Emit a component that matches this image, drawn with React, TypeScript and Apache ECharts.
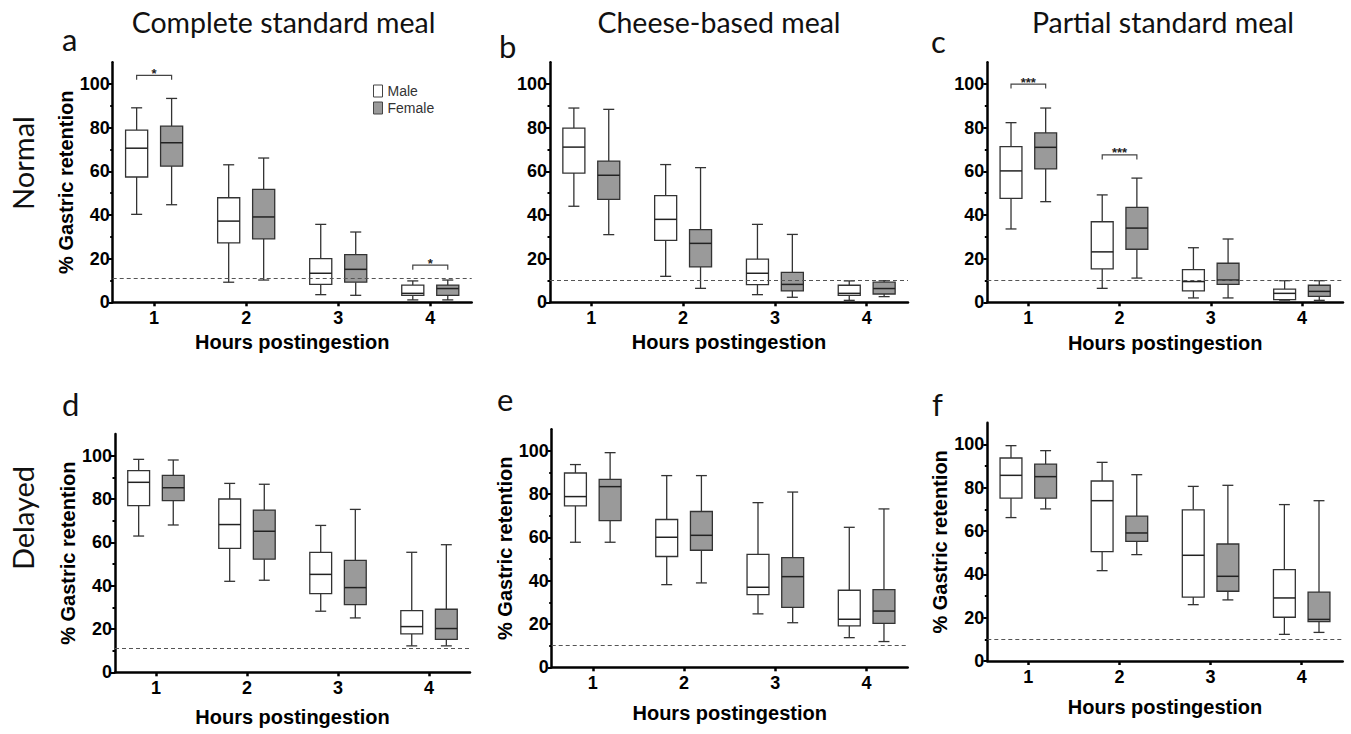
import React, { useEffect, useRef } from "react";
import * as echarts from "echarts";

// ---------- data ----------
const hours = [1, 2, 3, 4];
const yTicks = [0, 20, 40, 60, 80, 100];
const panelTitles = ["Complete standard meal", "Cheese-based meal", "Partial standard meal"];
const panelLetters = ["a", "b", "c", "d", "e", "f"];
const rowLabels = ["Normal", "Delayed"];
const sexes = ["Male", "Female"];
const yAxisName = "% Gastric retention";
const xAxisName = "Hours postingestion";

// each entry: [min, Q1, median, Q3, max] for hours 1..4
const completeNormalMale = [[40.3, 57.4, 70.6, 78.9, 89.1], [9.2, 27.2, 37.2, 47.9, 63.0], [3.5, 8.2, 13.3, 20.0, 35.7], [1.1, 3.2, 4.1, 7.9, 9.8]];
const completeNormalFemale = [[44.7, 62.4, 73.1, 80.7, 93.4], [10.2, 29.1, 39.1, 51.7, 66.1], [3.2, 9.2, 15.1, 21.8, 32.2], [1.1, 3.2, 6.3, 7.9, 10.2]];
const cheeseNormalMale = [[44.0, 59.2, 71.1, 79.8, 89.0], [11.9, 28.4, 38.0, 48.9, 63.1], [3.5, 8.1, 13.3, 19.8, 35.7], [0.9, 3.2, 4.1, 7.8, 9.8]];
const cheeseNormalFemale = [[31.0, 47.2, 58.2, 64.7, 88.4], [6.4, 16.2, 27.0, 33.3, 61.7], [2.3, 5.2, 8.2, 13.7, 31.1], [2.6, 3.8, 6.3, 9.2, 9.9]];
const partialNormalMale = [[33.6, 47.6, 60.2, 71.3, 82.3], [6.4, 15.3, 23.1, 36.9, 49.2], [2.0, 5.2, 9.5, 15.0, 25.0], [1.0, 1.2, 4.1, 6.0, 9.9]];
const partialNormalFemale = [[46.1, 61.1, 71.0, 77.6, 89.0], [11.1, 24.3, 34.0, 43.5, 56.9], [2.0, 8.2, 10.2, 17.9, 29.0], [0.9, 2.7, 5.0, 7.8, 9.9]];
const completeDelayedMale = [[62.9, 76.9, 87.7, 93.1, 98.3], [42.0, 57.2, 68.2, 80.0, 87.2], [28.2, 36.3, 45.2, 55.4, 67.8], [12.2, 17.7, 21.1, 28.5, 55.4]];
const completeDelayedFemale = [[68.0, 79.2, 85.2, 90.9, 98.0], [42.5, 52.2, 65.1, 74.9, 86.8], [25.1, 31.2, 39.1, 51.7, 75.2], [12.2, 15.2, 20.2, 29.1, 58.9]];
const cheeseDelayedMale = [[57.8, 74.6, 78.9, 89.8, 93.7], [38.2, 51.2, 60.1, 68.3, 88.6], [24.7, 33.6, 37.0, 52.2, 76.1], [13.7, 19.1, 22.2, 35.6, 64.7]];
const cheeseDelayedFemale = [[57.8, 67.8, 83.5, 86.9, 99.2], [39.0, 54.1, 61.0, 72.0, 88.6], [20.6, 27.7, 41.9, 50.7, 81.0], [11.9, 20.3, 26.0, 35.9, 73.2]];
const partialDelayedMale = [[66.2, 75.2, 85.7, 93.7, 99.4], [41.7, 50.5, 74.0, 83.1, 91.7], [26.0, 29.5, 48.8, 69.8, 80.6], [12.3, 20.2, 29.1, 42.2, 72.2]];
const partialDelayedFemale = [[70.2, 75.2, 85.1, 90.9, 97.1], [49.1, 55.2, 59.1, 66.9, 86.0], [28.2, 32.2, 39.1, 54.0, 81.1], [13.2, 18.2, 19.2, 31.8, 74.0]];

const thresholds = [11, 10, 10, 11, 10, 10];

// significance brackets: [hour, value of bracket]
const sigCompleteNormal = [[1, 104], [4, 17]];
const sigCompleteNormalLabels = ["*", "*"];
const sigPartialNormal = [[1, 100], [2, 67.5]];
const sigPartialNormalLabels = ["***", "***"];

// ---------- layout / style ----------
const GRIDS = [
  { left: 112.7, top: 62.2, width: 359, height: 240.1 },
  { left: 550, top: 62.2, width: 358, height: 240.1 },
  { left: 987.3, top: 62.2, width: 355.7, height: 240.1 },
  { left: 115, top: 434, width: 355, height: 238.3 },
  { left: 551.7, top: 429.3, width: 356, height: 238 },
  { left: 987.3, top: 422.7, width: 355.4, height: 238.3 },
];
const X_NAME_GAP = [30, 30, 31, 35, 36, 36];
const SHOW_Y_NAME = [true, false, false, true, true, true];
const OFFSET = 0.19;
const BOX_HALF = 0.12;
const CAP_HALF = 0.06;
const STROKE = "#333";
const AXIS_FONT = "Liberation Sans, Arial, Helvetica, sans-serif";
const TITLE_FONT = "Lato, Open Sans, sans-serif";

const boxSets = [
  [completeNormalMale, completeNormalFemale],
  [cheeseNormalMale, cheeseNormalFemale],
  [partialNormalMale, partialNormalFemale],
  [completeDelayedMale, completeDelayedFemale],
  [cheeseDelayedMale, cheeseDelayedFemale],
  [partialDelayedMale, partialDelayedFemale],
];

function boxRenderer(offset: number, fill: string) {
  return (params: any, api: any) => {
    const x = api.value(0) + offset;
    const pMin = api.coord([x, api.value(1)]);
    const yQ1 = api.coord([x, api.value(2)])[1];
    const yMed = api.coord([x, api.value(3)])[1];
    const yQ3 = api.coord([x, api.value(4)])[1];
    const yMax = api.coord([x, api.value(5)])[1];
    const cx = pMin[0];
    const yMin = pMin[1];
    const unit = api.size([1, 0])[0];
    const half = unit * BOX_HALF;
    const cap = unit * CAP_HALF;
    const ls = { stroke: STROKE, lineWidth: 1.3, fill: null };
    return {
      type: "group",
      children: [
        { type: "line", shape: { x1: cx, y1: yMax, x2: cx, y2: yQ3 }, style: ls },
        { type: "line", shape: { x1: cx, y1: yQ1, x2: cx, y2: yMin }, style: ls },
        { type: "line", shape: { x1: cx - cap, y1: yMax, x2: cx + cap, y2: yMax }, style: ls },
        { type: "line", shape: { x1: cx - cap, y1: yMin, x2: cx + cap, y2: yMin }, style: ls },
        { type: "rect", shape: { x: cx - half, y: yQ3, width: half * 2, height: yQ1 - yQ3 }, style: { fill, stroke: STROKE, lineWidth: 1.3 } },
        { type: "line", shape: { x1: cx - half, y1: yMed, x2: cx + half, y2: yMed }, style: { stroke: "#222", lineWidth: 1.5 } },
      ],
    };
  };
}

function sigRenderer(labels: string[]) {
  return (params: any, api: any) => {
    const h = api.value(0);
    const v = api.value(1);
    const pl = api.coord([h - OFFSET, v]);
    const pr = api.coord([h + OFFSET, v]);
    const leg = 4.5;
    return {
      type: "group",
      children: [
        {
          type: "polyline",
          shape: { points: [[pl[0], pl[1] + leg], [pl[0], pl[1]], [pr[0], pr[1]], [pr[0], pr[1] + leg]] },
          style: { stroke: "#444", lineWidth: 1.2, fill: null },
        },
        {
          type: "text",
          x: (pl[0] + pr[0]) / 2,
          y: pl[1] - 2,
          style: {
            text: labels[params.dataIndex],
            fontSize: 13,
            fontWeight: "bold",
            fontFamily: AXIS_FONT,
            fill: "#222",
            align: "center",
            verticalAlign: "middle",
            textAlign: "center",
            textVerticalAlign: "middle",
          },
        },
      ],
    };
  };
}

function buildOption() {
  const grid = GRIDS.map((g) => ({ ...g, containLabel: false }));
  const xAxis = GRIDS.map((_, i) => ({
    gridIndex: i,
    type: "value",
    min: 0.55,
    max: 4.45,
    splitLine: { show: false },
    axisLine: { show: true, onZero: false, lineStyle: { color: "#000", width: 2.5 } },
    axisTick: { show: true, customValues: hours, length: 4, lineStyle: { color: "#000", width: 2.5 } },
    axisLabel: { customValues: hours, margin: 7, color: "#000", fontSize: 18, fontWeight: "bold", fontFamily: AXIS_FONT },
    name: xAxisName,
    nameLocation: "middle",
    nameGap: X_NAME_GAP[i],
    nameTextStyle: { color: "#000", fontSize: 20, fontWeight: "bold", fontFamily: AXIS_FONT },
  }));
  const yAxis = GRIDS.map((_, i) => ({
    gridIndex: i,
    type: "value",
    min: 0,
    max: 110,
    interval: 20,
    splitLine: { show: false },
    minorSplitLine: { show: false },
    axisLine: { show: true, onZero: false, lineStyle: { color: "#000", width: 2.5 } },
    axisTick: { show: true, customValues: yTicks, length: 4, lineStyle: { color: "#000", width: 2 } },
    minorTick: { show: true, splitNumber: 2, length: 2.5, lineStyle: { color: "#000", width: 2 } },
    axisLabel: { customValues: yTicks, margin: 3, color: "#000", fontSize: 18, fontWeight: "bold", fontFamily: AXIS_FONT },
    name: SHOW_Y_NAME[i] ? yAxisName : "",
    nameLocation: "middle",
    nameRotate: 90,
    nameGap: 36,
    nameTextStyle: { color: "#000", fontSize: 20, fontWeight: "bold", fontFamily: AXIS_FONT },
  }));

  const series: any[] = [];
  boxSets.forEach((pair, i) => {
    pair.forEach((vals, s) => {
      const data = hours.map((h, k) => [h, ...vals[k]]);
      const ser: any = {
        type: "custom",
        name: sexes[s],
        xAxisIndex: i,
        yAxisIndex: i,
        data,
        encode: { x: 0, y: [1, 2, 3, 4, 5] },
        renderItem: boxRenderer(s === 0 ? -OFFSET : OFFSET, s === 0 ? "#ffffff" : "#9a9a9a"),
        clip: false,
        silent: true,
        itemStyle: { color: s === 0 ? "#ffffff" : "#9a9a9a", borderColor: STROKE },
      };
      if (s === 0) {
        ser.markLine = {
          silent: true,
          symbol: ["none", "none"],
          label: { show: false },
          lineStyle: { type: [4, 3], color: "#555", width: 1.2 },
          data: [{ yAxis: thresholds[i] }],
        };
      }
      series.push(ser);
    });
  });
  series.push({
    type: "custom",
    name: "sigA",
    xAxisIndex: 0,
    yAxisIndex: 0,
    data: sigCompleteNormal,
    encode: { x: 0, y: 1 },
    renderItem: sigRenderer(sigCompleteNormalLabels),
    silent: true,
    clip: false,
  });
  series.push({
    type: "custom",
    name: "sigC",
    xAxisIndex: 2,
    yAxisIndex: 2,
    data: sigPartialNormal,
    encode: { x: 0, y: 1 },
    renderItem: sigRenderer(sigPartialNormalLabels),
    silent: true,
    clip: false,
  });

  const titleCenters = [283.5, 719, 1163];
  const letterPos = [
    [62, 39], [499, 46], [931, 41],
    [62, 404], [497, 399], [932, 404],
  ];
  const graphic: any[] = [];
  panelTitles.forEach((t, i) => {
    graphic.push({
      type: "text",
      x: titleCenters[i],
      y: 22,
      style: { text: t, fontSize: 28.5, fontFamily: TITLE_FONT, fill: "#111", textAlign: "center", textVerticalAlign: "middle" },
    });
  });
  panelLetters.forEach((l, i) => {
    graphic.push({
      type: "text",
      x: letterPos[i][0],
      y: letterPos[i][1],
      style: { text: l, fontSize: 31, fontFamily: TITLE_FONT, fill: "#111", textAlign: "left", textVerticalAlign: "middle" },
    });
  });
  const rowY = [163, 518];
  rowLabels.forEach((r, i) => {
    graphic.push({
      type: "text",
      x: 22,
      y: rowY[i],
      rotation: Math.PI / 2,
      style: { text: r, fontSize: 29, fontFamily: TITLE_FONT, fill: "#111", textAlign: "center", textVerticalAlign: "middle" },
    });
  });

  return {
    animation: false,
    backgroundColor: "#ffffff",
    grid,
    xAxis,
    yAxis,
    series,
    graphic,
    legend: {
      left: 368,
      top: 79,
      orient: "vertical",
      itemWidth: 9,
      itemHeight: 12,
      itemGap: 3,
      selectedMode: false,
      textStyle: { fontSize: 14, color: "#333", fontFamily: AXIS_FONT },
      data: [
        { name: "Male", icon: "rect", itemStyle: { color: "#ffffff", borderColor: "#444", borderWidth: 1 } },
        { name: "Female", icon: "rect", itemStyle: { color: "#9a9a9a", borderColor: "#444", borderWidth: 1 } },
      ],
    },
  };
}

export default function App() {
  const ref = useRef<HTMLDivElement>(null);
  useEffect(() => {
    if (!ref.current) return;
    const chart = echarts.init(ref.current, null, { renderer: "svg" });
    chart.setOption(buildOption() as any);
    return () => chart.dispose();
  }, []);
  return <div ref={ref} style={{ position: "absolute", left: 0, top: 0, width: "1351px", height: "734px" }} />;
}
